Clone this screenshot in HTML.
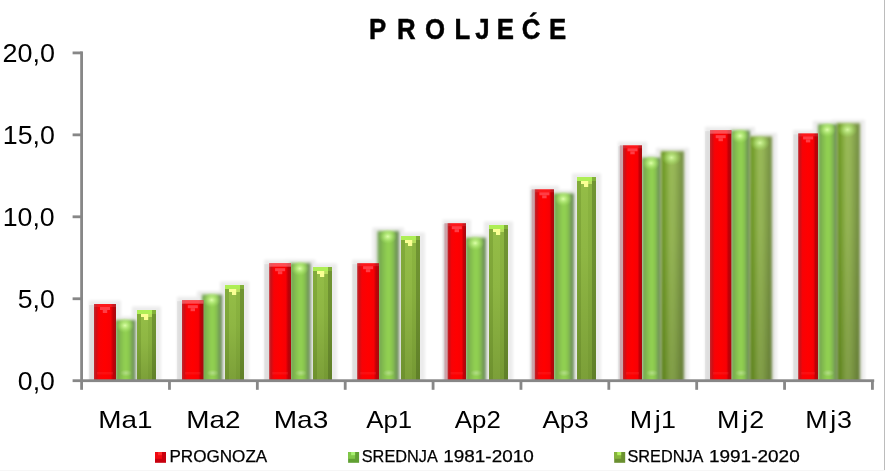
<!DOCTYPE html>
<html lang="hr"><head><meta charset="utf-8"><title>PROLJEĆE</title>
<style>
html,body{margin:0;padding:0;background:#fff;}
body{width:885px;height:471px;overflow:hidden;font-family:"Liberation Sans",sans-serif;}
svg{display:block;}
text{font-family:"Liberation Sans",sans-serif;fill:#000;}
</style></head><body>
<svg width="885" height="471" viewBox="0 0 885 471">
<defs>
<filter id="b1" x="-30%" y="-5%" width="160%" height="110%"><feGaussianBlur stdDeviation="1.4"/></filter>
<filter id="b3" x="-30%" y="-10%" width="160%" height="120%"><feGaussianBlur stdDeviation="1.6"/></filter>
<filter id="b05" x="-10%" y="-10%" width="120%" height="120%"><feGaussianBlur stdDeviation="0.5"/></filter>
<clipPath id="plot"><rect x="60" y="40" width="825" height="340.5"/></clipPath>
<linearGradient id="gr" x1="0" x2="1" y1="0" y2="0">
<stop offset="0" stop-color="#c22a30"/><stop offset="0.1" stop-color="#cc1016"/><stop offset="0.22" stop-color="#f80206"/><stop offset="0.5" stop-color="#ff0000"/><stop offset="0.76" stop-color="#f80004"/><stop offset="0.87" stop-color="#c00006"/><stop offset="1" stop-color="#a40c10"/>
</linearGradient>
<linearGradient id="gl" x1="0" x2="1" y1="0" y2="0">
<stop offset="0" stop-color="#6c9a50"/><stop offset="0.22" stop-color="#80b84e"/><stop offset="0.5" stop-color="#94d452"/><stop offset="0.7" stop-color="#88c44e"/><stop offset="0.86" stop-color="#729a56"/><stop offset="1" stop-color="#667f5c"/>
</linearGradient>
<linearGradient id="go" x1="0" x2="1" y1="0" y2="0">
<stop offset="0" stop-color="#628e1c"/><stop offset="0.14" stop-color="#749e2a"/><stop offset="0.42" stop-color="#9bbb59"/><stop offset="0.58" stop-color="#96b656"/><stop offset="0.8" stop-color="#829e4a"/><stop offset="1" stop-color="#708a40"/>
</linearGradient>
<radialGradient id="hl" cx="0.5" cy="0.5" r="0.5"><stop offset="0" stop-color="#dcffa8" stop-opacity="1"/><stop offset="0.45" stop-color="#bef284" stop-opacity="0.6"/><stop offset="1" stop-color="#a0e060" stop-opacity="0"/></radialGradient>
<radialGradient id="hw" cx="0.5" cy="0.5" r="0.5"><stop offset="0" stop-color="#ffffff" stop-opacity="0.3"/><stop offset="1" stop-color="#ffffff" stop-opacity="0"/></radialGradient>
<linearGradient id="vd" x1="0" x2="0" y1="0" y2="1"><stop offset="0" stop-color="#1c2a00" stop-opacity="0"/><stop offset="0.35" stop-color="#1c2a00" stop-opacity="0.04"/><stop offset="1" stop-color="#1c2a00" stop-opacity="0.2"/></linearGradient>
</defs>
<rect x="0" y="0" width="885" height="471" fill="#ffffff"/>
<g clip-path="url(#plot)">

<g filter="url(#b3)" fill="#000" opacity="0.075">
<rect x="89.0" y="300.5" width="32.0" height="84.0"/>
<rect x="110.5" y="316.5" width="30.0" height="68.0"/>
<rect x="132.0" y="306.5" width="29.0" height="78.0"/>
<rect x="177.0" y="296.7" width="31.5" height="87.8"/>
<rect x="197.0" y="291.0" width="30.3" height="93.5"/>
<rect x="220.0" y="281.5" width="29.0" height="103.0"/>
<rect x="264.2" y="259.7" width="31.8" height="124.8"/>
<rect x="285.0" y="259.5" width="30.6" height="125.0"/>
<rect x="308.0" y="263.5" width="29.0" height="121.0"/>
<rect x="352.2" y="259.7" width="31.8" height="124.8"/>
<rect x="372.5" y="227.5" width="31.5" height="157.0"/>
<rect x="396.0" y="232.5" width="29.0" height="152.0"/>
<rect x="442.6" y="219.7" width="28.4" height="164.8"/>
<rect x="460.5" y="234.1" width="30.5" height="150.4"/>
<rect x="484.0" y="221.5" width="29.0" height="163.0"/>
<rect x="529.8" y="185.8" width="29.2" height="198.7"/>
<rect x="548.5" y="189.9" width="30.5" height="194.6"/>
<rect x="572.0" y="173.5" width="29.0" height="211.0"/>
<rect x="618.0" y="141.8" width="29.0" height="242.7"/>
<rect x="637.0" y="154.1" width="29.0" height="230.4"/>
<rect x="656.0" y="147.7" width="33.0" height="236.8"/>
<rect x="705.0" y="126.7" width="31.4" height="257.8"/>
<rect x="726.0" y="126.9" width="29.0" height="257.6"/>
<rect x="744.7" y="132.9" width="32.3" height="251.6"/>
<rect x="793.2" y="129.9" width="29.8" height="254.6"/>
<rect x="813.0" y="120.7" width="29.5" height="263.8"/>
<rect x="832.0" y="119.7" width="33.0" height="264.8"/>
</g>
<rect x="89.0" y="305.0" width="6" height="76.0" fill="#000" opacity="0.06" filter="url(#b05)"/>
<g filter="url(#b1)">
<rect x="115.5" y="320.0" width="20.0" height="66.0" fill="url(#gl)"/>
</g>
<ellipse cx="125.0" cy="325.5" rx="9" ry="7.5" fill="url(#hl)"/>
<ellipse cx="126.0" cy="373.0" rx="6" ry="3.5" fill="url(#hw)"/>
<g>
<rect x="94.0" y="304.0" width="22.0" height="78.0" fill="url(#gr)"/>
<rect x="94.0" y="304.0" width="22.0" height="3" fill="#ff8088" opacity="0.18"/>
<g fill="#ff3e44" filter="url(#b05)"><rect x="100.0" y="307.0" width="10" height="3"/><rect x="102.8" y="310.0" width="4.4" height="3"/></g>
<rect x="97.0" y="372.0" width="16.0" height="2.5" fill="#ff5a60" opacity="0.16"/>
</g>
<g>
<rect x="137.0" y="310.0" width="19.0" height="72.0" fill="#88b03e"/>
<rect x="137.0" y="310.0" width="4" height="72.0" fill="#82aa3a"/>
<rect x="141.0" y="310.0" width="7" height="72.0" fill="#93bc46"/>
<rect x="148.0" y="310.0" width="4" height="72.0" fill="#8bb440"/>
<rect x="152.0" y="310.0" width="4.0" height="72.0" fill="#709432"/>
<rect x="137.0" y="310.0" width="15" height="4" fill="#aeee56"/>
<rect x="152.0" y="310.0" width="4.0" height="4" fill="#82b03a"/>
<rect x="148.0" y="314.0" width="4" height="3" fill="#b8de5e"/>
<g fill="#faff94"><rect x="141.0" y="314.0" width="7.2" height="3"/><rect x="144.0" y="317.0" width="4.2" height="3"/></g>
<rect x="137.0" y="320.0" width="19.0" height="62.0" fill="url(#vd)"/>
</g>
<rect x="177.0" y="301.2" width="6" height="79.8" fill="#000" opacity="0.06" filter="url(#b05)"/>
<g filter="url(#b1)">
<rect x="202.0" y="294.5" width="20.3" height="91.5" fill="url(#gl)"/>
</g>
<ellipse cx="211.7" cy="300.0" rx="9" ry="7.5" fill="url(#hl)"/>
<ellipse cx="212.7" cy="373.0" rx="6" ry="3.5" fill="url(#hw)"/>
<g>
<rect x="182.0" y="300.2" width="21.5" height="81.8" fill="url(#gr)"/>
<rect x="182.0" y="300.2" width="21.5" height="3.5" fill="#ff8088" opacity="0.6"/>
<g fill="#ff3e44" filter="url(#b05)"><rect x="187.8" y="305.2" width="10" height="3"/><rect x="190.6" y="308.2" width="4.4" height="3"/></g>
<rect x="185.0" y="372.0" width="15.5" height="2.5" fill="#ff5a60" opacity="0.16"/>
</g>
<g>
<rect x="225.0" y="285.0" width="19.0" height="97.0" fill="#88b03e"/>
<rect x="225.0" y="285.0" width="4" height="97.0" fill="#82aa3a"/>
<rect x="229.0" y="285.0" width="7" height="97.0" fill="#93bc46"/>
<rect x="236.0" y="285.0" width="4" height="97.0" fill="#8bb440"/>
<rect x="240.0" y="285.0" width="4.0" height="97.0" fill="#709432"/>
<rect x="225.0" y="285.0" width="15" height="4" fill="#aeee56"/>
<rect x="240.0" y="285.0" width="4.0" height="4" fill="#82b03a"/>
<rect x="236.0" y="289.0" width="4" height="3" fill="#b8de5e"/>
<g fill="#faff94"><rect x="229.0" y="289.0" width="7.2" height="3"/><rect x="232.0" y="292.0" width="4.2" height="3"/></g>
<rect x="225.0" y="295.0" width="19.0" height="87.0" fill="url(#vd)"/>
</g>
<rect x="264.2" y="264.2" width="6" height="116.8" fill="#000" opacity="0.06" filter="url(#b05)"/>
<g filter="url(#b1)">
<rect x="290.0" y="263.0" width="20.6" height="123.0" fill="url(#gl)"/>
</g>
<ellipse cx="299.8" cy="268.5" rx="9" ry="7.5" fill="url(#hl)"/>
<ellipse cx="300.8" cy="373.0" rx="6" ry="3.5" fill="url(#hw)"/>
<g>
<rect x="269.2" y="263.2" width="21.8" height="118.8" fill="url(#gr)"/>
<rect x="269.2" y="263.2" width="21.8" height="3.5" fill="#ff8088" opacity="0.6"/>
<g fill="#ff3e44" filter="url(#b05)"><rect x="275.1" y="268.2" width="10" height="3"/><rect x="277.9" y="271.2" width="4.4" height="3"/></g>
<rect x="272.2" y="372.0" width="15.8" height="2.5" fill="#ff5a60" opacity="0.16"/>
</g>
<g>
<rect x="313.0" y="267.0" width="19.0" height="115.0" fill="#88b03e"/>
<rect x="313.0" y="267.0" width="4" height="115.0" fill="#82aa3a"/>
<rect x="317.0" y="267.0" width="7" height="115.0" fill="#93bc46"/>
<rect x="324.0" y="267.0" width="4" height="115.0" fill="#8bb440"/>
<rect x="328.0" y="267.0" width="4.0" height="115.0" fill="#709432"/>
<rect x="313.0" y="267.0" width="15" height="4" fill="#aeee56"/>
<rect x="328.0" y="267.0" width="4.0" height="4" fill="#82b03a"/>
<rect x="324.0" y="271.0" width="4" height="3" fill="#b8de5e"/>
<g fill="#faff94"><rect x="317.0" y="271.0" width="7.2" height="3"/><rect x="320.0" y="274.0" width="4.2" height="3"/></g>
<rect x="313.0" y="277.0" width="19.0" height="105.0" fill="url(#vd)"/>
</g>
<rect x="352.2" y="264.2" width="6" height="116.8" fill="#000" opacity="0.06" filter="url(#b05)"/>
<g filter="url(#b1)">
<rect x="377.5" y="231.0" width="21.5" height="155.0" fill="url(#gl)"/>
</g>
<ellipse cx="387.8" cy="236.5" rx="9" ry="7.5" fill="url(#hl)"/>
<ellipse cx="388.8" cy="373.0" rx="6" ry="3.5" fill="url(#hw)"/>
<g>
<rect x="357.2" y="263.2" width="21.8" height="118.8" fill="url(#gr)"/>
<rect x="357.2" y="263.2" width="21.8" height="3" fill="#ff8088" opacity="0.18"/>
<g fill="#ff3e44" filter="url(#b05)"><rect x="363.1" y="266.2" width="10" height="3"/><rect x="365.9" y="269.2" width="4.4" height="3"/></g>
<rect x="360.2" y="372.0" width="15.8" height="2.5" fill="#ff5a60" opacity="0.16"/>
</g>
<g>
<rect x="401.0" y="236.0" width="19.0" height="146.0" fill="#88b03e"/>
<rect x="401.0" y="236.0" width="4" height="146.0" fill="#82aa3a"/>
<rect x="405.0" y="236.0" width="7" height="146.0" fill="#93bc46"/>
<rect x="412.0" y="236.0" width="4" height="146.0" fill="#8bb440"/>
<rect x="416.0" y="236.0" width="4.0" height="146.0" fill="#709432"/>
<rect x="401.0" y="236.0" width="15" height="4" fill="#aeee56"/>
<rect x="416.0" y="236.0" width="4.0" height="4" fill="#82b03a"/>
<rect x="412.0" y="240.0" width="4" height="3" fill="#b8de5e"/>
<g fill="#faff94"><rect x="405.0" y="240.0" width="7.2" height="3"/><rect x="408.0" y="243.0" width="4.2" height="3"/></g>
<rect x="401.0" y="246.0" width="19.0" height="136.0" fill="url(#vd)"/>
</g>
<rect x="442.6" y="224.2" width="6" height="156.8" fill="#000" opacity="0.06" filter="url(#b05)"/>
<g filter="url(#b1)">
<rect x="465.5" y="237.6" width="20.5" height="148.4" fill="url(#gl)"/>
</g>
<ellipse cx="475.2" cy="243.1" rx="9" ry="7.5" fill="url(#hl)"/>
<ellipse cx="476.2" cy="373.0" rx="6" ry="3.5" fill="url(#hw)"/>
<rect x="444.4" y="223.2" width="3.4" height="158.8" fill="#c49098" opacity="0.75"/>
<g>
<rect x="447.6" y="223.2" width="18.4" height="158.8" fill="url(#gr)"/>
<rect x="447.6" y="223.2" width="18.4" height="3" fill="#ff8088" opacity="0.18"/>
<g fill="#ff3e44" filter="url(#b05)"><rect x="451.8" y="226.2" width="10" height="3"/><rect x="454.6" y="229.2" width="4.4" height="3"/></g>
<rect x="450.6" y="372.0" width="12.4" height="2.5" fill="#ff5a60" opacity="0.16"/>
</g>
<g>
<rect x="489.0" y="225.0" width="19.0" height="157.0" fill="#88b03e"/>
<rect x="489.0" y="225.0" width="4" height="157.0" fill="#82aa3a"/>
<rect x="493.0" y="225.0" width="7" height="157.0" fill="#93bc46"/>
<rect x="500.0" y="225.0" width="4" height="157.0" fill="#8bb440"/>
<rect x="504.0" y="225.0" width="4.0" height="157.0" fill="#709432"/>
<rect x="489.0" y="225.0" width="15" height="4" fill="#aeee56"/>
<rect x="504.0" y="225.0" width="4.0" height="4" fill="#82b03a"/>
<rect x="500.0" y="229.0" width="4" height="3" fill="#b8de5e"/>
<g fill="#faff94"><rect x="493.0" y="229.0" width="7.2" height="3"/><rect x="496.0" y="232.0" width="4.2" height="3"/></g>
<rect x="489.0" y="235.0" width="19.0" height="147.0" fill="url(#vd)"/>
</g>
<rect x="529.8" y="190.3" width="6" height="190.7" fill="#000" opacity="0.06" filter="url(#b05)"/>
<g filter="url(#b1)">
<rect x="553.5" y="193.4" width="20.5" height="192.6" fill="url(#gl)"/>
</g>
<ellipse cx="563.2" cy="198.9" rx="9" ry="7.5" fill="url(#hl)"/>
<ellipse cx="564.2" cy="373.0" rx="6" ry="3.5" fill="url(#hw)"/>
<rect x="531.6" y="189.3" width="3.4" height="192.7" fill="#c49098" opacity="0.75"/>
<g>
<rect x="534.8" y="189.3" width="19.2" height="192.7" fill="url(#gr)"/>
<rect x="534.8" y="189.3" width="19.2" height="3" fill="#ff8088" opacity="0.18"/>
<g fill="#ff3e44" filter="url(#b05)"><rect x="539.4" y="192.3" width="10" height="3"/><rect x="542.2" y="195.3" width="4.4" height="3"/></g>
<rect x="537.8" y="372.0" width="13.2" height="2.5" fill="#ff5a60" opacity="0.16"/>
</g>
<g>
<rect x="577.0" y="177.0" width="19.0" height="205.0" fill="#88b03e"/>
<rect x="577.0" y="177.0" width="4" height="205.0" fill="#82aa3a"/>
<rect x="581.0" y="177.0" width="7" height="205.0" fill="#93bc46"/>
<rect x="588.0" y="177.0" width="4" height="205.0" fill="#8bb440"/>
<rect x="592.0" y="177.0" width="4.0" height="205.0" fill="#709432"/>
<rect x="577.0" y="177.0" width="15" height="4" fill="#aeee56"/>
<rect x="592.0" y="177.0" width="4.0" height="4" fill="#82b03a"/>
<rect x="588.0" y="181.0" width="4" height="3" fill="#b8de5e"/>
<g fill="#faff94"><rect x="581.0" y="181.0" width="7.2" height="3"/><rect x="584.0" y="184.0" width="4.2" height="3"/></g>
<rect x="577.0" y="187.0" width="19.0" height="195.0" fill="url(#vd)"/>
</g>
<rect x="618.0" y="146.3" width="6" height="234.7" fill="#000" opacity="0.06" filter="url(#b05)"/>
<g filter="url(#b1)">
<rect x="642.0" y="157.6" width="19.0" height="228.4" fill="url(#gl)"/>
</g>
<ellipse cx="651.0" cy="163.1" rx="9" ry="7.5" fill="url(#hl)"/>
<ellipse cx="652.0" cy="373.0" rx="6" ry="3.5" fill="url(#hw)"/>
<rect x="619.8" y="145.3" width="3.4" height="236.7" fill="#c49098" opacity="0.75"/>
<g>
<rect x="623.0" y="145.3" width="19.0" height="236.7" fill="url(#gr)"/>
<rect x="623.0" y="145.3" width="19.0" height="3" fill="#ff8088" opacity="0.18"/>
<g fill="#ff3e44" filter="url(#b05)"><rect x="627.5" y="148.3" width="10" height="3"/><rect x="630.3" y="151.3" width="4.4" height="3"/></g>
<rect x="626.0" y="372.0" width="13.0" height="2.5" fill="#ff5a60" opacity="0.16"/>
</g>
<g filter="url(#b1)">
<rect x="661.0" y="151.2" width="23.0" height="234.8" fill="url(#go)"/>
<rect x="661.0" y="161.2" width="23.0" height="224.8" fill="url(#vd)"/>
</g>
<ellipse cx="671.5" cy="157.7" rx="10" ry="8" fill="url(#hl)" opacity="0.9"/>
<rect x="705.0" y="131.2" width="6" height="249.8" fill="#000" opacity="0.06" filter="url(#b05)"/>
<g filter="url(#b1)">
<rect x="731.0" y="130.4" width="19.0" height="255.6" fill="url(#gl)"/>
</g>
<ellipse cx="740.0" cy="135.9" rx="9" ry="7.5" fill="url(#hl)"/>
<ellipse cx="741.0" cy="373.0" rx="6" ry="3.5" fill="url(#hw)"/>
<g>
<rect x="710.0" y="130.2" width="21.4" height="251.8" fill="url(#gr)"/>
<rect x="710.0" y="130.2" width="21.4" height="3.5" fill="#ff8088" opacity="0.6"/>
<g fill="#ff3e44" filter="url(#b05)"><rect x="715.7" y="135.2" width="10" height="3"/><rect x="718.5" y="138.2" width="4.4" height="3"/></g>
<rect x="713.0" y="372.0" width="15.4" height="2.5" fill="#ff5a60" opacity="0.16"/>
</g>
<g filter="url(#b1)">
<rect x="749.7" y="136.4" width="22.3" height="249.6" fill="url(#go)"/>
<rect x="749.7" y="146.4" width="22.3" height="239.6" fill="url(#vd)"/>
</g>
<ellipse cx="759.9" cy="142.9" rx="10" ry="8" fill="url(#hl)" opacity="0.9"/>
<rect x="793.2" y="134.4" width="6" height="246.6" fill="#000" opacity="0.06" filter="url(#b05)"/>
<g filter="url(#b1)">
<rect x="818.0" y="124.2" width="19.5" height="261.8" fill="url(#gl)"/>
</g>
<ellipse cx="827.2" cy="129.7" rx="9" ry="7.5" fill="url(#hl)"/>
<ellipse cx="828.2" cy="373.0" rx="6" ry="3.5" fill="url(#hw)"/>
<g>
<rect x="798.2" y="133.4" width="19.8" height="248.6" fill="url(#gr)"/>
<rect x="798.2" y="133.4" width="19.8" height="3" fill="#ff8088" opacity="0.18"/>
<g fill="#ff3e44" filter="url(#b05)"><rect x="803.1" y="136.4" width="10" height="3"/><rect x="805.9" y="139.4" width="4.4" height="3"/></g>
<rect x="801.2" y="372.0" width="13.8" height="2.5" fill="#ff5a60" opacity="0.16"/>
</g>
<g filter="url(#b1)">
<rect x="837.0" y="123.2" width="23.0" height="262.8" fill="url(#go)"/>
<rect x="837.0" y="133.2" width="23.0" height="252.8" fill="url(#vd)"/>
</g>
<ellipse cx="847.5" cy="129.7" rx="10" ry="8" fill="url(#hl)" opacity="0.9"/>
</g>
<g fill="#878787">
<rect x="80.2" y="51.4" width="2.8" height="338.4"/>
<rect x="72.6" y="379.3" width="801.6" height="2.8"/>
<rect x="72.6" y="51.50" width="9" height="2.8"/>
<rect x="72.6" y="133.45" width="9" height="2.8"/>
<rect x="72.6" y="215.40" width="9" height="2.8"/>
<rect x="72.6" y="297.35" width="9" height="2.8"/>
<rect x="168.07" y="380" width="2.8" height="9.8"/>
<rect x="255.94" y="380" width="2.8" height="9.8"/>
<rect x="343.81" y="380" width="2.8" height="9.8"/>
<rect x="431.68" y="380" width="2.8" height="9.8"/>
<rect x="519.55" y="380" width="2.8" height="9.8"/>
<rect x="607.42" y="380" width="2.8" height="9.8"/>
<rect x="695.29" y="380" width="2.8" height="9.8"/>
<rect x="783.16" y="380" width="2.8" height="9.8"/>
<rect x="871.03" y="380" width="2.8" height="9.8"/>
</g>
<text x="2.45" y="61.90" font-size="25" textLength="52.46" lengthAdjust="spacingAndGlyphs">20,0</text>
<text x="2.79" y="143.85" font-size="25" textLength="52.11" lengthAdjust="spacingAndGlyphs">15,0</text>
<text x="2.70" y="225.80" font-size="25" textLength="52.01" lengthAdjust="spacingAndGlyphs">10,0</text>
<text x="17.73" y="307.75" font-size="25" textLength="37.04" lengthAdjust="spacingAndGlyphs">5,0</text>
<text x="17.83" y="389.70" font-size="25" textLength="37.04" lengthAdjust="spacingAndGlyphs">0,0</text>
<text x="98.27" y="427.60" font-size="24" textLength="54.24" lengthAdjust="spacingAndGlyphs">Ma1</text>
<text x="186.37" y="427.60" font-size="24" textLength="54.24" lengthAdjust="spacingAndGlyphs">Ma2</text>
<text x="273.76" y="427.60" font-size="24" textLength="54.51" lengthAdjust="spacingAndGlyphs">Ma3</text>
<text x="366.27" y="427.60" font-size="24" textLength="45.90" lengthAdjust="spacingAndGlyphs">Ap1</text>
<text x="454.87" y="427.60" font-size="24" textLength="45.90" lengthAdjust="spacingAndGlyphs">Ap2</text>
<text x="542.57" y="427.60" font-size="24" textLength="46.18" lengthAdjust="spacingAndGlyphs">Ap3</text>
<text transform="scale(1.12,1)" x="562.19 584.69 590.20" y="427.60" font-size="24">Mj1</text>
<text transform="scale(1.12,1)" x="640.13 662.64 669.04" y="427.60" font-size="24">Mj2</text>
<text transform="scale(1.12,1)" x="718.97 741.39 747.22" y="427.60" font-size="24">Mj3</text>
<text transform="scale(0.86,1)" x="429.03 461.55 494.07 528.58 552.77 577.71 606.77 638.30" y="39.40" font-size="30" font-weight="bold" stroke="#000" stroke-width="0.5">PROLJEĆE</text>
<g><rect x="155" y="452" width="11" height="10.8" fill="#c8000e"/>
<rect x="155" y="452" width="7" height="6.8" fill="#f00812"/>
<rect x="158" y="452" width="4" height="3.2" fill="#ff2a2a"/></g>
<g><rect x="348.1" y="452" width="11" height="10.8" fill="#60a032"/>
<rect x="348.1" y="452" width="7" height="6.8" fill="#80c848"/>
<rect x="351.1" y="452" width="4" height="3.2" fill="#a8f070"/></g>
<g><rect x="614.2" y="452" width="11" height="10.8" fill="#6a9030"/>
<rect x="614.2" y="452" width="7" height="6.8" fill="#86b43c"/>
<rect x="617.2" y="452" width="4" height="3.2" fill="#b4f060"/></g>
<text x="169.43" y="461.70" font-size="16.6" stroke="#000" stroke-width="0.25" textLength="97.81" lengthAdjust="spacingAndGlyphs">PROGNOZA</text>
<text x="361.77" y="461.70" font-size="16.6" stroke="#000" stroke-width="0.25" textLength="75.98" lengthAdjust="spacingAndGlyphs">SREDNJA</text>
<text x="443.28" y="461.70" font-size="16.6" stroke="#000" stroke-width="0.25" textLength="90.52" lengthAdjust="spacingAndGlyphs">1981-2010</text>
<text x="627.47" y="461.70" font-size="16.6" stroke="#000" stroke-width="0.25" textLength="75.98" lengthAdjust="spacingAndGlyphs">SREDNJA</text>
<text x="708.98" y="461.70" font-size="16.6" stroke="#000" stroke-width="0.25" textLength="90.73" lengthAdjust="spacingAndGlyphs">1991-2020</text>
<rect x="884" y="0" width="1" height="471" fill="#bcbcbc"/>
<rect x="0" y="470" width="885" height="1" fill="#f6f6f6"/>
</svg></body></html>
